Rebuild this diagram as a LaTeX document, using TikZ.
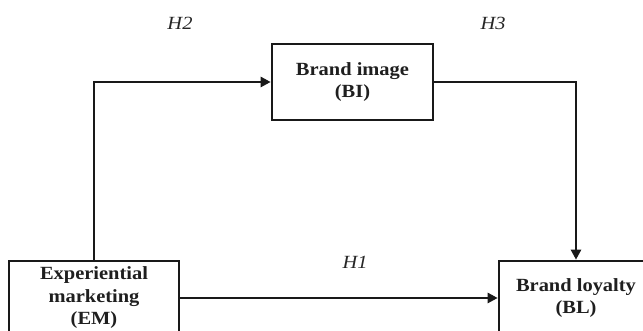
\documentclass[tikz,border=0pt]{standalone}
\usepackage{fontspec}
\setmainfont{Liberation Serif}
\newfontfamily\boxfont[FakeStretch=1.1]{Liberation Serif}
\usetikzlibrary{arrows.meta}
\begin{document}
\begin{tikzpicture}[x=1pt,y=1pt,
  boxnode/.style={draw=black!90, line width=2.6pt, rectangle, align=center, inner sep=0pt,
    font=\boxfont\bfseries\fontsize{18.6}{22.5}\selectfont, text=black!88},
  hlabel/.style={font=\boxfont\itshape\fontsize{18.6}{22.5}\selectfont, text=black!85, inner sep=0pt},
  conn/.style={draw=black!90, line width=2.4pt, -{Triangle[length=10pt,width=10pt]}}]
\clip (0,0) rectangle (643,331);
\useasboundingbox (0,0) rectangle (643,331);
\fill[white] (0,0) rectangle (643,331);
\node[boxnode, minimum width=170pt, minimum height=74pt] (EM) at (94,33) {Experiential\\marketing\\(EM)};
\node[boxnode, minimum width=161pt, minimum height=76pt] (BI) at (352.5,249) {Brand image\\(BI)};
\node[boxnode, minimum width=154pt, minimum height=74pt] (BL) at (576,33) {Brand loyalty\\(BL)};
\node[hlabel] (H2) at (180,308) {H2};
\node[hlabel] (H3) at (493,308) {H3};
\node[hlabel] (H1) at (355,69) {H1};
\draw[conn] (EM.north) |- (BI.west);
\draw[conn] (BI.east) -| (BL.north);
\draw[conn] (EM.east) -- (BL.west);
\end{tikzpicture}
\end{document}
